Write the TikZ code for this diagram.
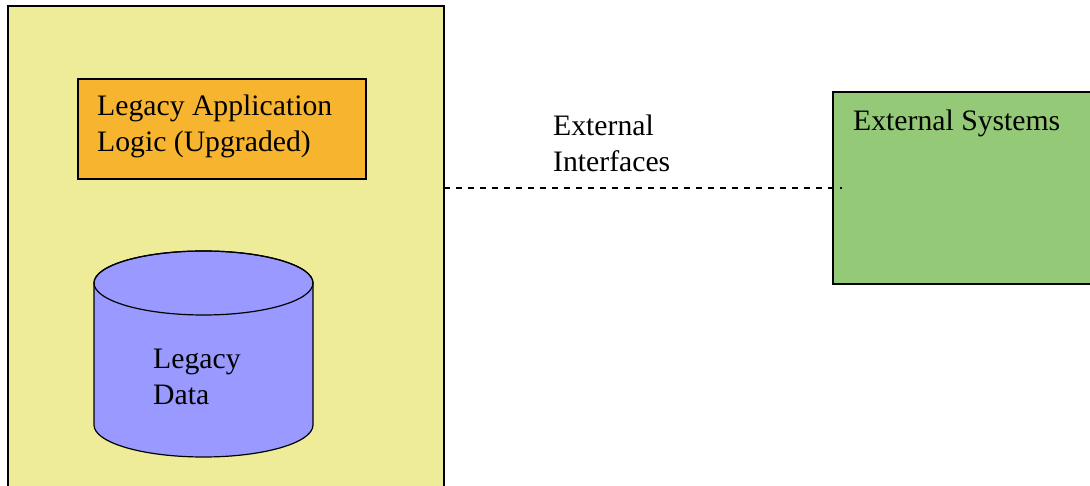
\documentclass[tikz,border=0pt]{standalone}
\usepackage{fontspec}
\setmainfont{Liberation Serif}
\definecolor{hostfill}{RGB}{238,235,153}
\definecolor{logicfill}{RGB}{247,181,47}
\definecolor{datafill}{RGB}{153,153,255}
\definecolor{extfill}{RGB}{147,201,119}
\tikzset{
  outline/.style={draw=black, line width=1.2pt},
  caption/.style={anchor=base west, inner sep=0pt, align=left,
                  font=\fontsize{29.7}{36}\selectfont},
  link/.style={draw=black, line width=1.2pt, dash pattern=on 6pt off 6pt}
}
\begin{document}
\begin{tikzpicture}[x=1pt, y=-1pt]
  \useasboundingbox (0,0) rectangle (1090,486);
  \clip (0,0) rectangle (1090,486);
  \fill[white] (0,0) rectangle (1090,486);

  % host system
  \path[outline, fill=hostfill] (8,6) rectangle (444,520);
  \coordinate (hostR) at (444,188);

  % application logic box (base anchor sits on the last line)
  \path[outline, fill=logicfill] (78,79) rectangle (366,179);
  \node[caption] (logic) at (97,152) {Legacy Application\\Logic (Upgraded)};

  % data store cylinder
  \path[outline, fill=datafill]
    (94,283) -- (94,425)
    arc[start angle=180, end angle=360, x radius=109.5pt, y radius=32pt]
    -- (313,283)
    arc[start angle=0, end angle=180, x radius=109.5pt, y radius=32pt]
    -- cycle;
  \draw[outline] (203.5,283) ellipse[x radius=109.5pt, y radius=32pt];
  \node[caption] (data) at (153,404) {Legacy\\Data};

  % external systems
  \path[outline, fill=extfill] (833,92) rectangle (1110,284);
  \node[caption] (ext) at (853,131) {External Systems};
  \coordinate (extL) at (842,188);

  % interface link
  \draw[link] (hostR) -- (extL);
  \node[caption] (iface) at (553,172) {External\\Interfaces};
\end{tikzpicture}
\end{document}
